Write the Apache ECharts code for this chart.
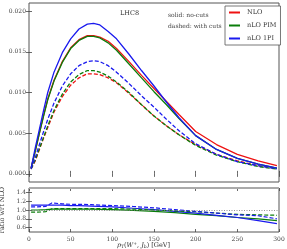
<!DOCTYPE html>
<html><head><meta charset="utf-8">
<script src="https://cdn.jsdelivr.net/npm/echarts@6/dist/echarts.min.js"></script>
<style>html,body{margin:0;padding:0;background:#fff}#c{width:287px;height:249px}</style>
</head><body><div id="c"></div>
<script>
var xMain = [2.5, 7.5, 12.5, 17.5, 22.5, 30, 40, 50, 60, 70, 77.5, 85, 95, 105, 120, 135, 150, 165, 180, 200, 225, 250, 275, 297.5];
var nloSolid   = [0.0007,0.0028,0.0050,0.0072,0.0092,0.0115,0.0138,0.0155,0.0165,0.0170,0.0170,0.0168,0.0163,0.0154,0.0138,0.0121,0.0105,0.0089,0.0073,0.0052,0.0036,0.0024,0.0016,0.0010];
var pimSolid   = [0.0007,0.0028,0.0050,0.0071,0.0091,0.0114,0.0137,0.0154,0.0164,0.0169,0.0169,0.0167,0.0161,0.0152,0.0135,0.0118,0.0101,0.0085,0.0068,0.0047,0.0030,0.0019,0.0012,0.0007];
var onePiSolid = [0.0007,0.0032,0.0055,0.0078,0.0100,0.0125,0.0149,0.0166,0.0178,0.0184,0.0185,0.0183,0.0175,0.0166,0.0147,0.0127,0.0108,0.0088,0.0069,0.0047,0.0030,0.0019,0.0012,0.0007];
var nloDashed   = [0.0006,0.0016,0.0030,0.0044,0.0057,0.0076,0.0095,0.0109,0.0118,0.0123,0.0123,0.0122,0.0118,0.0112,0.0099,0.0085,0.0071,0.0059,0.0048,0.0036,0.0024,0.0016,0.0010,0.0007];
var pimDashed   = [0.0006,0.0017,0.0031,0.0045,0.0059,0.0078,0.0098,0.0113,0.0122,0.0127,0.0127,0.0125,0.0120,0.0113,0.0100,0.0085,0.0071,0.0059,0.0048,0.0035,0.0023,0.0015,0.0009,0.0006];
var onePiDashed = [0.0006,0.0020,0.0036,0.0052,0.0067,0.0087,0.0108,0.0123,0.0133,0.0138,0.0139,0.0138,0.0133,0.0125,0.0111,0.0096,0.0082,0.0067,0.0053,0.0037,0.0024,0.0015,0.0010,0.0006];

var xRatio = [2.5, 10, 20, 27.5, 40, 50, 60, 75, 100, 125, 150, 175, 200, 225, 250, 275, 297.5];
var ratioOnePiSolid  = [1.11,1.11,1.11,1.11,1.11,1.10,1.10,1.09,1.07,1.04,1.01,0.97,0.93,0.88,0.83,0.76,0.69];
var ratioOnePiDashed = [1.07,1.07,1.08,1.16,1.14,1.13,1.13,1.12,1.10,1.08,1.05,1.01,0.97,0.93,0.89,0.87,0.80];
var ratioPimSolid    = [1.00,1.00,1.01,1.02,1.02,1.02,1.02,1.02,1.01,0.99,0.97,0.94,0.90,0.87,0.83,0.80,0.76];
var ratioPimDashed   = [0.95,0.95,0.96,1.03,1.03,1.03,1.03,1.03,1.03,1.02,1.00,0.98,0.96,0.93,0.90,0.89,0.88];

var xTicks = [0, 50, 100, 150, 200, 250, 300];
var mainYTicks = [0.000, 0.005, 0.010, 0.015, 0.020];
var ratioYTicks = [0.6, 0.8, 1.0, 1.2, 1.4];

var RED = '#ee1111', GREEN = '#0a7d0a', BLUE = '#1a1aee';
var FONT = 'DejaVu Serif';

function pairs(xs, ys) { return xs.map(function (x, i) { return [x, ys[i]]; }); }

var chart = echarts.init(document.getElementById('c'), null, {renderer: 'canvas'});
var tickLbl = {fontFamily: FONT, fontSize: 6, color: '#444'};
var tickStyle = {show: true, inside: true, length: 3, lineStyle: {color: '#444', width: 0.8}};
function xa(grid, pos, labels) {
  return {type: 'value', gridIndex: grid, position: pos, min: 0, max: 300, interval: 50,
    axisLine: {show: false}, splitLine: {show: false},
    axisTick: tickStyle,
    axisLabel: labels ? Object.assign({show: true, margin: 4}, tickLbl) : {show: false}};
}
function ya(grid, pos, min, max, ticks, digits, labels, extra) {
  var o = {type: 'value', gridIndex: grid, position: pos, min: min, max: max,
    axisLine: {show: false}, splitLine: {show: false},
    axisTick: Object.assign({customValues: ticks}, tickStyle),
    axisLabel: labels ? Object.assign({margin: 3, customValues: ticks, formatter: function (v) { return v.toFixed(digits); }}, tickLbl) : {show: false}};
  return Object.assign(o, extra || {});
}
var option = {
  animation: false,
  textStyle: {fontFamily: FONT},
  grid: [
    {left: 29, top: 3, width: 250, height: 179, show: true, borderColor: '#555', borderWidth: 1, backgroundColor: 'transparent', containLabel: false, outerBoundsMode: 'none'},
    {left: 29, top: 188, width: 250, height: 44, show: true, borderColor: '#555', borderWidth: 1, backgroundColor: 'transparent', containLabel: false, outerBoundsMode: 'none'}
  ],
  xAxis: [xa(0, 'bottom', false), xa(0, 'top', false), xa(1, 'bottom', true), xa(1, 'top', false)],
  yAxis: [
    ya(0, 'left', -0.001, 0.021, mainYTicks, 3, true, {
      name: '{n|dσ/dp}{s|T}{n| [pb/GeV]}', nameLocation: 'middle', nameGap: 21,
      nameTextStyle: {rich: {n: {fontFamily: FONT, fontSize: 6.5, color: '#333'}, s: {fontFamily: FONT, fontSize: 4.5, color: '#333', padding: [3, 0, 0, 0]}}}}),
    ya(0, 'right', -0.001, 0.021, mainYTicks, 3, false),
    ya(1, 'left', 0.5, 1.5, ratioYTicks, 1, true, {
      name: 'ratio wrt NLO', nameLocation: 'middle', nameGap: 17,
      nameTextStyle: {fontFamily: FONT, fontSize: 6.5, color: '#333'}}),
    ya(1, 'right', 0.5, 1.5, ratioYTicks, 1, false)
  ],
  legend: {
    left: 225, top: 6, orient: 'vertical', itemWidth: 11, itemHeight: 2, itemGap: 6,
    icon: 'rect', borderColor: '#555', borderWidth: 0.8, padding: [3, 4, 3, 4], backgroundColor: '#fff',
    textStyle: {fontFamily: FONT, fontSize: 6.5, color: '#333', padding: [0, 0, 0, 2]},
    data: ['NLO', 'nLO PIM', 'nLO 1PI']
  },
  graphic: [
    {type: 'text', left: 120, top: 10, style: {text: 'LHC8', font: '6.5px "DejaVu Serif"', fill: '#333'}},
    {type: 'text', left: 168, top: 12, style: {text: 'solid: no-cuts', font: '6px "DejaVu Serif"', fill: '#444'}},
    {type: 'text', left: 168, top: 23, style: {text: 'dashed: with cuts', font: '6px "DejaVu Serif"', fill: '#444'}},
    {type: 'line', shape: {x1: 29, y1: 188, x2: 279, y2: 188}, style: {stroke: '#aaa', lineWidth: 2}, z: 100},
    {type: 'text', left: 'center', top: 241, style: {
      rich: {n: {fontFamily: FONT, fontSize: 6.5, fill: '#333'}, i: {fontFamily: FONT, fontStyle: 'italic', fontSize: 6.5, fill: '#333'},
             s: {fontFamily: FONT, fontSize: 4.5, fill: '#333', padding: [3, 0, 0, 0]}, u: {fontFamily: FONT, fontSize: 4.5, fill: '#333', padding: [0, 0, 3, 0]}},
      text: '{i|p}{s|T}{n|(}{i|W}{u|+}{n|, }{i|J}{s|b}{n|) [GeV]}'}}
  ],
  series: [
    {name: 'NLO', type: 'line', xAxisIndex: 0, yAxisIndex: 0, data: pairs(xMain, nloSolid), showSymbol: false, lineStyle: {color: RED, width: 1.3}, itemStyle: {color: RED}, z: 3},
    {name: 'nLO PIM', type: 'line', xAxisIndex: 0, yAxisIndex: 0, data: pairs(xMain, pimSolid), showSymbol: false, lineStyle: {color: GREEN, width: 1.3}, itemStyle: {color: GREEN}, z: 4},
    {name: 'nLO 1PI', type: 'line', xAxisIndex: 0, yAxisIndex: 0, data: pairs(xMain, onePiSolid), showSymbol: false, lineStyle: {color: BLUE, width: 1.3}, itemStyle: {color: BLUE}, z: 5},
    {name: 'NLO cuts', type: 'line', xAxisIndex: 0, yAxisIndex: 0, data: pairs(xMain, nloDashed), showSymbol: false, lineStyle: {color: RED, width: 1.3, type: [4, 2]}, itemStyle: {color: RED}},
    {name: 'nLO PIM cuts', type: 'line', xAxisIndex: 0, yAxisIndex: 0, data: pairs(xMain, pimDashed), showSymbol: false, lineStyle: {color: GREEN, width: 1.3, type: [4, 2]}, itemStyle: {color: GREEN}},
    {name: 'nLO 1PI cuts', type: 'line', xAxisIndex: 0, yAxisIndex: 0, data: pairs(xMain, onePiDashed), showSymbol: false, lineStyle: {color: BLUE, width: 1.3, type: [4, 2]}, itemStyle: {color: BLUE}},
    {name: 'r PIM', type: 'line', xAxisIndex: 2, yAxisIndex: 2, data: pairs(xRatio, ratioPimSolid), showSymbol: false, lineStyle: {color: GREEN, width: 1.2}, itemStyle: {color: GREEN},
      markLine: {silent: true, symbol: 'none', label: {show: false}, lineStyle: {color: '#777', type: [1, 1.5], width: 0.8}, data: [{yAxis: 1.0}]}},
    {name: 'r 1PI', type: 'line', xAxisIndex: 2, yAxisIndex: 2, data: pairs(xRatio, ratioOnePiSolid), showSymbol: false, lineStyle: {color: BLUE, width: 1.2}, itemStyle: {color: BLUE}},
    {name: 'r PIM cuts', type: 'line', xAxisIndex: 2, yAxisIndex: 2, data: pairs(xRatio, ratioPimDashed), showSymbol: false, lineStyle: {color: GREEN, width: 1.2, type: [4, 2]}, itemStyle: {color: GREEN}},
    {name: 'r 1PI cuts', type: 'line', xAxisIndex: 2, yAxisIndex: 2, data: pairs(xRatio, ratioOnePiDashed), showSymbol: false, lineStyle: {color: BLUE, width: 1.2, type: [4, 2]}, itemStyle: {color: BLUE}}
  ]
};
chart.setOption(option);
</script></body></html>
